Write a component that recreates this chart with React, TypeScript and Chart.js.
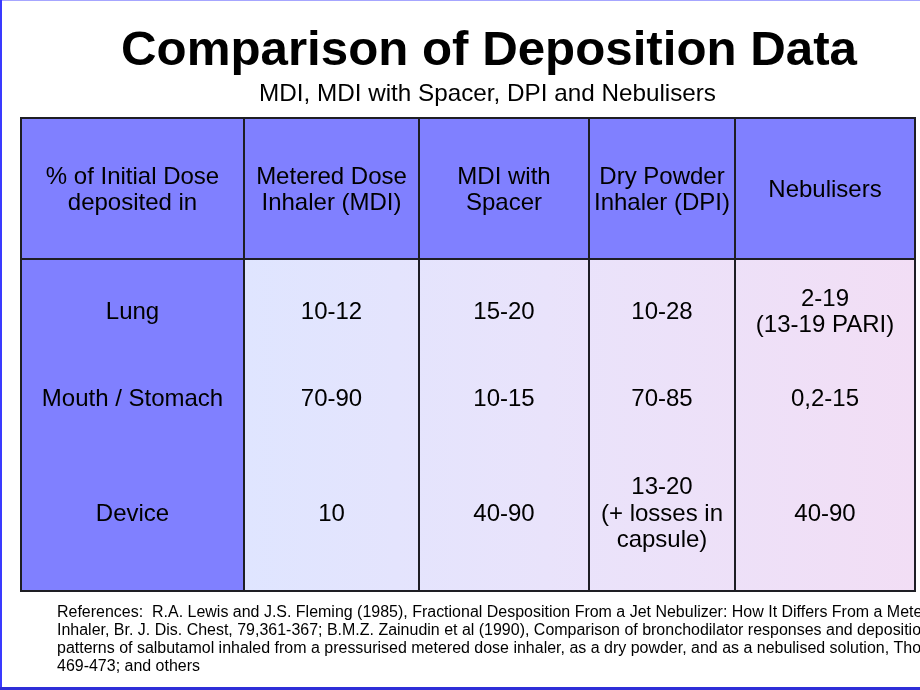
import React, { useEffect, useRef } from "react";
import { Chart, registerables } from "chart.js";

Chart.register(...registerables);

// ---------- content ----------
const TITLE = "Comparison of Deposition Data";
const SUBTITLE = "MDI, MDI with Spacer, DPI and Nebulisers";

const CORNER_HEADER = ["% of Initial Dose", "deposited in"];
const COLUMN_HEADERS = [
  ["Metered Dose", "Inhaler (MDI)"],
  ["MDI with", "Spacer"],
  ["Dry Powder", "Inhaler (DPI)"],
  ["Nebulisers"],
];
const ROW_LABELS = ["Lung", "Mouth / Stomach", "Device"];

const MDI_VALUES = [["10-12"], ["70-90"], ["10"]];
const MDI_SPACER_VALUES = [["15-20"], ["10-15"], ["40-90"]];
const DPI_VALUES = [["10-28"], ["70-85"], ["13-20", "(+ losses in", "capsule)"]];
const NEBULISER_VALUES = [["2-19", "(13-19 PARI)"], ["0,2-15"], ["40-90"]];

const REFERENCES = [
  "References:  R.A. Lewis and J.S. Fleming (1985), Fractional Desposition From a Jet Nebulizer: How It Differs From a Metered Dose",
  "Inhaler, Br. J. Dis. Chest, 79,361-367; B.M.Z. Zainudin et al (1990), Comparison of bronchodilator responses and deposition",
  "patterns of salbutamol inhaled from a pressurised metered dose inhaler, as a dry powder, and as a nebulised solution, Thorax 45,",
  "469-473; and others",
];

// ---------- layout (relative sizes of table columns / rows) ----------
const COLUMN_WIDTHS = [223, 175, 170, 146, 180];
const ROW_HEIGHTS = [141, 103, 71, 158];

const cumulative = (arr: number[]) => {
  const out = [0];
  arr.forEach((v) => out.push(out[out.length - 1] + v));
  return out;
};
const COL_EDGES = cumulative(COLUMN_WIDTHS);
const ROW_EDGES = cumulative(ROW_HEIGHTS);
const colCenter = (i: number) => (COL_EDGES[i] + COL_EDGES[i + 1]) / 2;
const rowCenter = (i: number) => (ROW_EDGES[i] + ROW_EDGES[i + 1]) / 2;

const FONT = '"Liberation Sans", Arial, Helvetica, sans-serif';
const HEADER_BLUE = "#8080ff";
const GRID = "#1e1e24";

type Cell = { x: number; y: number; lines: string[] };

function buildDatasets() {
  const header: Cell[] = [{ x: colCenter(0), y: rowCenter(0), lines: CORNER_HEADER }];
  COLUMN_HEADERS.forEach((h, i) => header.push({ x: colCenter(i + 1), y: rowCenter(0), lines: h }));
  const rowLabels: Cell[] = ROW_LABELS.map((l, r) => ({ x: colCenter(0), y: rowCenter(r + 1), lines: [l] }));
  const series = [MDI_VALUES, MDI_SPACER_VALUES, DPI_VALUES, NEBULISER_VALUES];
  const names = ["Metered Dose Inhaler (MDI)", "MDI with Spacer", "Dry Powder Inhaler (DPI)", "Nebulisers"];
  const ds = [
    { label: "header", data: header },
    { label: "rows", data: rowLabels },
    ...series.map((vals, c) => ({
      label: names[c],
      data: vals.map((lines, r) => ({ x: colCenter(c + 1), y: rowCenter(r + 1), lines })),
    })),
  ];
  return ds.map((d) => ({ ...d, pointRadius: 0, pointHoverRadius: 0, showLine: false }));
}

function fitText(ctx: CanvasRenderingContext2D, text: string, cx: number, baseline: number, target: number, align: CanvasTextAlign) {
  const w = ctx.measureText(text).width;
  const sx = target / w;
  ctx.save();
  ctx.translate(cx, baseline);
  ctx.scale(sx, 1);
  ctx.textAlign = align;
  ctx.fillText(text, 0, 0);
  ctx.restore();
}

const tablePlugin = {
  id: "depositionTable",
  beforeDraw(chart: any) {
    const ctx: CanvasRenderingContext2D = chart.ctx;
    const W = chart.width;
    const H = chart.height;
    ctx.save();
    ctx.fillStyle = "#ffffff";
    ctx.fillRect(0, 0, W, H);
    // slide frame
    ctx.fillStyle = "#a6a6ff";
    ctx.fillRect(0, 0, W, 1);
    ctx.fillStyle = "#3a3aff";
    ctx.fillRect(0, 0, 2, H);
    ctx.fillStyle = "#2e2ed8";
    ctx.fillRect(0, H - 3, W, 3);
    ctx.restore();
  },
  beforeDatasetsDraw(chart: any) {
    const ctx: CanvasRenderingContext2D = chart.ctx;
    const xs = chart.scales.x;
    const ys = chart.scales.y;
    const px = (v: number) => xs.getPixelForValue(v);
    const py = (v: number) => ys.getPixelForValue(v);
    const x0 = px(COL_EDGES[0]);
    const x1 = px(COL_EDGES[1]);
    const xN = px(COL_EDGES[COL_EDGES.length - 1]);
    const y0 = py(ROW_EDGES[0]);
    const y1 = py(ROW_EDGES[1]);
    const yN = py(ROW_EDGES[ROW_EDGES.length - 1]);
    ctx.save();
    // body gradient
    const g = ctx.createLinearGradient(x1, 0, xN, 0);
    g.addColorStop(0, "#dfe5ff");
    g.addColorStop(0.45, "#e9e3fb");
    g.addColorStop(1, "#f2def5");
    ctx.fillStyle = g;
    ctx.fillRect(x1, y1, xN - x1, yN - y1);
    // header row + first column
    ctx.fillStyle = HEADER_BLUE;
    ctx.fillRect(x0, y0, xN - x0, y1 - y0);
    ctx.fillRect(x0, y1, x1 - x0, yN - y1);
    // grid
    ctx.strokeStyle = GRID;
    ctx.lineWidth = 2;
    ctx.beginPath();
    COL_EDGES.forEach((e) => {
      const x = Math.round(px(e));
      ctx.moveTo(x, y0);
      ctx.lineTo(x, yN);
    });
    [ROW_EDGES[0], ROW_EDGES[1], ROW_EDGES[ROW_EDGES.length - 1]].forEach((e) => {
      const y = Math.round(py(e));
      ctx.moveTo(x0 - 1, y);
      ctx.lineTo(xN + 1, y);
    });
    ctx.stroke();
    ctx.restore();
  },
  afterDatasetsDraw(chart: any) {
    const ctx: CanvasRenderingContext2D = chart.ctx;
    ctx.save();
    ctx.fillStyle = "#000000";
    ctx.textBaseline = "alphabetic";
    // cell texts positioned by the library's points
    ctx.font = `24px ${FONT}`;
    ctx.textAlign = "center";
    const lh = 26.5;
    chart.data.datasets.forEach((ds: any, di: number) => {
      const meta = chart.getDatasetMeta(di);
      ds.data.forEach((cell: Cell, j: number) => {
        const el = meta.data[j];
        const n = cell.lines.length;
        cell.lines.forEach((line, k) => {
          const by = el.y + 8.6 + (k - (n - 1) / 2) * lh;
          ctx.fillText(line, el.x, by);
        });
      });
    });
    // title & subtitle
    ctx.font = `bold 49px ${FONT}`;
    fitText(ctx, TITLE, 489, 65, 736, "center");
    ctx.font = `24px ${FONT}`;
    fitText(ctx, SUBTITLE, 487.5, 101, 457, "center");
    // references
    ctx.font = `16px ${FONT}`;
    const sx = Math.min(1.1, Math.max(0.8, 143 / ctx.measureText(REFERENCES[3]).width));
    REFERENCES.forEach((line, i) => {
      ctx.save();
      ctx.translate(57, 617 + i * 18);
      ctx.scale(sx, 1);
      ctx.textAlign = "left";
      ctx.fillText(line, 0, 0);
      ctx.restore();
    });
    ctx.restore();
  },
};

export default function App() {
  const canvasRef = useRef<HTMLCanvasElement | null>(null);

  useEffect(() => {
    document.body.style.margin = "0";
    const canvas = canvasRef.current;
    if (!canvas) return;
    const chart = new Chart(canvas, {
      type: "scatter",
      data: { datasets: buildDatasets() as any },
      options: {
        responsive: false,
        animation: false,
        devicePixelRatio: 1,
        layout: { padding: { left: 21, top: 118, right: 5, bottom: 99 } },
        plugins: {
          legend: { display: false },
          tooltip: { enabled: false },
          title: { display: false },
        },
        events: [],
        scales: {
          x: { type: "linear", display: false, min: 0, max: COL_EDGES[COL_EDGES.length - 1] },
          y: { type: "linear", display: false, reverse: true, min: 0, max: ROW_EDGES[ROW_EDGES.length - 1] },
        },
      },
      plugins: [tablePlugin],
    });
    return () => chart.destroy();
  }, []);

  return (
    <div style={{ position: "fixed", left: 0, top: 0, width: 920, height: 690 }}>
      <canvas ref={canvasRef} width={920} height={690} style={{ width: 920, height: 690, display: "block" }} />
    </div>
  );
}
